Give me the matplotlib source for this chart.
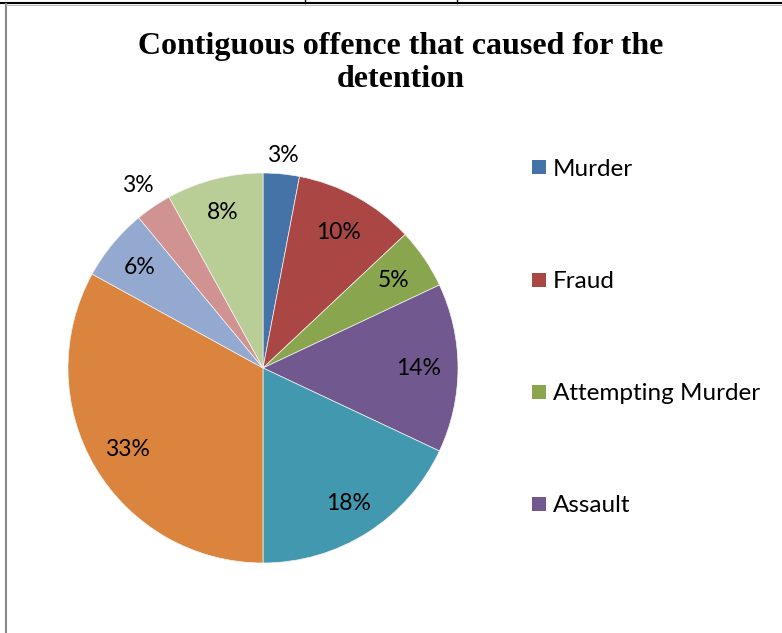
import matplotlib
matplotlib.use("Agg")
import matplotlib.pyplot as plt
from matplotlib.patches import Rectangle
from matplotlib.lines import Line2D
import numpy as np

# ---- data ----
legend_labels = ["Murder", "Fraud", "Attempting Murder", "Assault"]
values = [3, 10, 5, 14, 18, 33, 6, 3, 8]
pct_labels = ["3%", "10%", "5%", "14%", "18%", "33%", "6%", "3%", "8%"]
colors = ["#4572A7", "#AA4643", "#89A54E", "#71588F", "#4198AF",
          "#DB843D", "#93A9CF", "#D19392", "#B9CD96"]
title = "Contiguous offence that caused for the\ndetention"

W, H = 782, 633
fig = plt.figure(figsize=(W / 100, H / 100), dpi=100)

# pie axes: center (263, 368) px, radius 195 px
cx, cy, R = 263, 368, 195
ax = fig.add_axes([(cx - R) / W, (H - cy - R) / H, 2 * R / W, 2 * R / H])
wedges, _ = ax.pie(values, colors=colors, startangle=90, counterclock=False,
                   radius=1.0, wedgeprops=dict(edgecolor="#f4f4f4", linewidth=0.5))
ax.set_xlim(-1, 1)
ax.set_ylim(-1, 1)
ax.set_aspect("equal")
ax.axis("off")

# label distances (Excel best-fit style)
dists = [1.10, 0.80, 0.81, 0.80, 0.82, 0.81, 0.82, 1.14, 0.83]
total = sum(values)
cum = 0
for v, lab, d in zip(values, pct_labels, dists):
    mid = np.deg2rad(90 - (cum + v / 2) / total * 360)
    cum += v
    ax.text(d * np.cos(mid), d * np.sin(mid) - 0.005, lab, ha="center", va="center",
            fontsize=16.5, family=["Lato", "DejaVu Sans"], color="#000000",
            clip_on=False)

# title
fig.text(401 / W, 1 - 63 / H, title, ha="center", va="center",
         fontsize=23, fontweight="bold", family=["Liberation Serif", "DejaVu Serif"],
         linespacing=1.2)

# legend (only first four entries visible)
ys = [167, 280, 392, 504]
for lab, col, y in zip(legend_labels, colors, ys):
    fig.add_artist(Rectangle((532 / W, 1 - (y + 7) / H), 14 / W, 14 / H,
                             transform=fig.transFigure, facecolor=col,
                             edgecolor="none"))
    fig.text(553 / W, 1 - (y + 2) / H, lab, ha="left", va="center", fontsize=17.5,
             family=["Lato", "DejaVu Sans"], color="#000000")

# frame lines
fig.add_artist(Line2D([0, 1], [1 - 2.5 / H, 1 - 2.5 / H], transform=fig.transFigure,
                      color="black", linewidth=1.5))
for x in (305, 457):
    fig.add_artist(Line2D([x / W, x / W], [1, 1 - 3 / H], transform=fig.transFigure,
                          color="black", linewidth=1))
fig.add_artist(Line2D([5.5 / W, 5.5 / W], [0, 1 - 4 / H], transform=fig.transFigure,
                      color="#888888", linewidth=1.5))
fig.add_artist(Line2D([5.5 / W, 1], [1 - 4.5 / H, 1 - 4.5 / H], transform=fig.transFigure,
                      color="#bbbbbb", linewidth=0.8))

fig.savefig("out.png", dpi=100)
